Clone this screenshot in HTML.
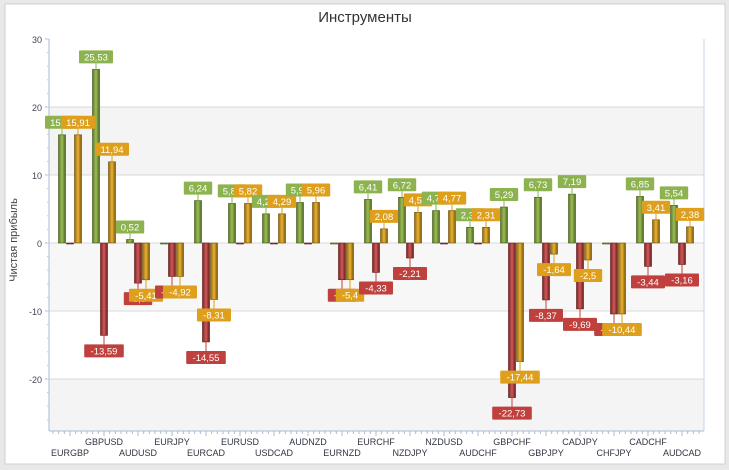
<!DOCTYPE html>
<html><head><meta charset="utf-8"><style>
body{margin:0;background:#fff;width:729px;height:470px;overflow:hidden}
svg{display:block;font-family:"Liberation Sans","DejaVu Sans",sans-serif}
</style></head><body>
<svg id="s" width="729" height="470" xmlns="http://www.w3.org/2000/svg">
<defs>
<linearGradient id="g" x1="0" x2="1"><stop offset="0" stop-color="#5d7a2c"/><stop offset=".5" stop-color="#9cbd55"/><stop offset="1" stop-color="#4c6622"/></linearGradient>
<linearGradient id="r" x1="0" x2="1"><stop offset="0" stop-color="#7a2424"/><stop offset=".5" stop-color="#d05a5a"/><stop offset="1" stop-color="#6a1c1c"/></linearGradient>
<linearGradient id="o" x1="0" x2="1"><stop offset="0" stop-color="#94680a"/><stop offset=".5" stop-color="#e8b236"/><stop offset="1" stop-color="#7d5808"/></linearGradient>
</defs>
<rect x="0" y="0" width="729" height="470" fill="#e8e8e8"/>
<rect x="5" y="4" width="720" height="460" fill="#fff" stroke="#d0d0d0"/>
<text x="365" y="22" text-anchor="middle" font-size="15" fill="#333">Инструменты</text>
<text transform="translate(17,240) rotate(-90)" text-anchor="middle" font-size="11" fill="#444">Чистая прибыль</text>
<g id="p"></g>
</svg>
<script>
var p=document.getElementById('p'),h='';
function Y(v){return 243-v*6.8;}
var L=49,R=704,B=431;
var bands=[[30,20,'#fff'],[20,10,'#f4f4f4'],[10,0,'#fff'],[0,-10,'#f7f7f7'],[-10,-20,'#fff'],[-20,-27.6,'#f4f4f4']];
bands.forEach(function(b){h+='<rect x="'+L+'" y="'+Y(b[0])+'" width="'+(R-L)+'" height="'+(Y(b[1])-Y(b[0]))+'" fill="'+b[2]+'"/>';});
[20,10,0,-10,-20].forEach(function(v){h+='<line x1="'+L+'" x2="'+R+'" y1="'+Y(v)+'" y2="'+Y(v)+'" stroke="#d8d8d8"/>';});
h+='<line x1="'+R+'" x2="'+R+'" y1="'+Y(30)+'" y2="'+B+'" stroke="#c8d4e4"/>';
h+='<line x1="'+L+'" x2="'+L+'" y1="'+Y(30)+'" y2="'+B+'" stroke="#a8bcd4"/>';
h+='<line x1="'+L+'" x2="'+R+'" y1="'+B+'" y2="'+B+'" stroke="#a8bcd4"/>';
[30,20,10,0,-10,-20].forEach(function(v){h+='<text x="42" y="'+(Y(v)+4)+'" text-anchor="end" font-size="9" fill="#445">'+v+'</text><line x1="45" x2="49" y1="'+Y(v)+'" y2="'+Y(v)+'" stroke="#a8bcd4"/>';});
for(var v=-26;v<=30;v+=2){h+='<line x1="47" x2="49" y1="'+Y(v)+'" y2="'+Y(v)+'" stroke="#c0cce0"/>';}
var d=[["EURGBP",15.91,0,15.91],["GBPUSD",25.53,-13.59,11.94],["AUDUSD",0.52,-5.9,-5.41],["EURJPY",0,-4.92,-4.92],["EURCAD",6.24,-14.55,-8.31],["EURUSD",5.82,0,5.82],["USDCAD",4.29,0,4.29],["AUDNZD",5.96,0,5.96],["EURNZD",0,-5.4,-5.4],["EURCHF",6.41,-4.33,2.08],["NZDJPY",6.72,-2.21,4.51],["NZDUSD",4.77,0,4.77],["AUDCHF",2.31,0,2.31],["GBPCHF",5.29,-22.73,-17.44],["GBPJPY",6.73,-8.37,-1.64],["CADJPY",7.19,-9.69,-2.5],["CHFJPY",0,-10.44,-10.44],["CADCHF",6.85,-3.44,3.41],["AUDCAD",5.54,-3.16,2.38]];
var step=34.0,x0=70,labs='';
var cols=[['url(#g)','#8db350'],['url(#r)','#c0403e'],['url(#o)','#dea01c']];
d.forEach(function(r,i){
 var c=x0+i*step;
 for(var k=-3;k<=3;k++){ if(k==0)continue; var tx=c+k*step/6; h+='<line x1="'+tx+'" x2="'+tx+'" y1="'+B+'" y2="'+(B+3)+'" stroke="#a8bcd4"/>';}
 h+='<line x1="'+c+'" x2="'+c+'" y1="'+B+'" y2="'+(B+5)+'" stroke="#a8bcd4"/>';
 h+='<text x="'+c+'" y="'+(i%2?445:456)+'" text-anchor="middle" font-size="9" fill="#334">'+r[0]+'</text>';
 for(var s=0;s<3;s++){
  var v=r[s+1],bx=c+(s-1)*8-3.5,y0=Y(Math.max(v,0)),y1=Y(Math.min(v,0));
  h+='<rect x="'+bx+'" y="'+y0+'" width="7" height="'+Math.max(y1-y0,1)+'" fill="'+cols[s][0]+'" stroke="'+(s==0?'#3e5418':s==1?'#5a1616':'#6a4a06')+'" stroke-width=".6"/>';
  if(v!=0){
   var t=(''+v).replace('.',','),w=t.length*5.6+6,ly=v>0?y0-19:y1+9;
   var sy1=v>0?y0:y1,sy2=v>0?y0-6:y1+9;
   labs+='<line x1="'+(bx+3.5)+'" x2="'+(bx+3.5)+'" y1="'+sy1+'" y2="'+sy2+'" stroke="'+cols[s][1]+'"/>';
   labs+='<rect x="'+(bx+3.5-w/2)+'" y="'+ly+'" width="'+w+'" height="13" fill="'+cols[s][1]+'" rx="1"/>';
   labs+='<text x="'+(bx+3.5)+'" y="'+(ly+10)+'" text-anchor="middle" font-size="9.5" fill="#fff">'+t+'</text>';
  }
 }
});
p.innerHTML=h+labs;
</script>
</body></html>
